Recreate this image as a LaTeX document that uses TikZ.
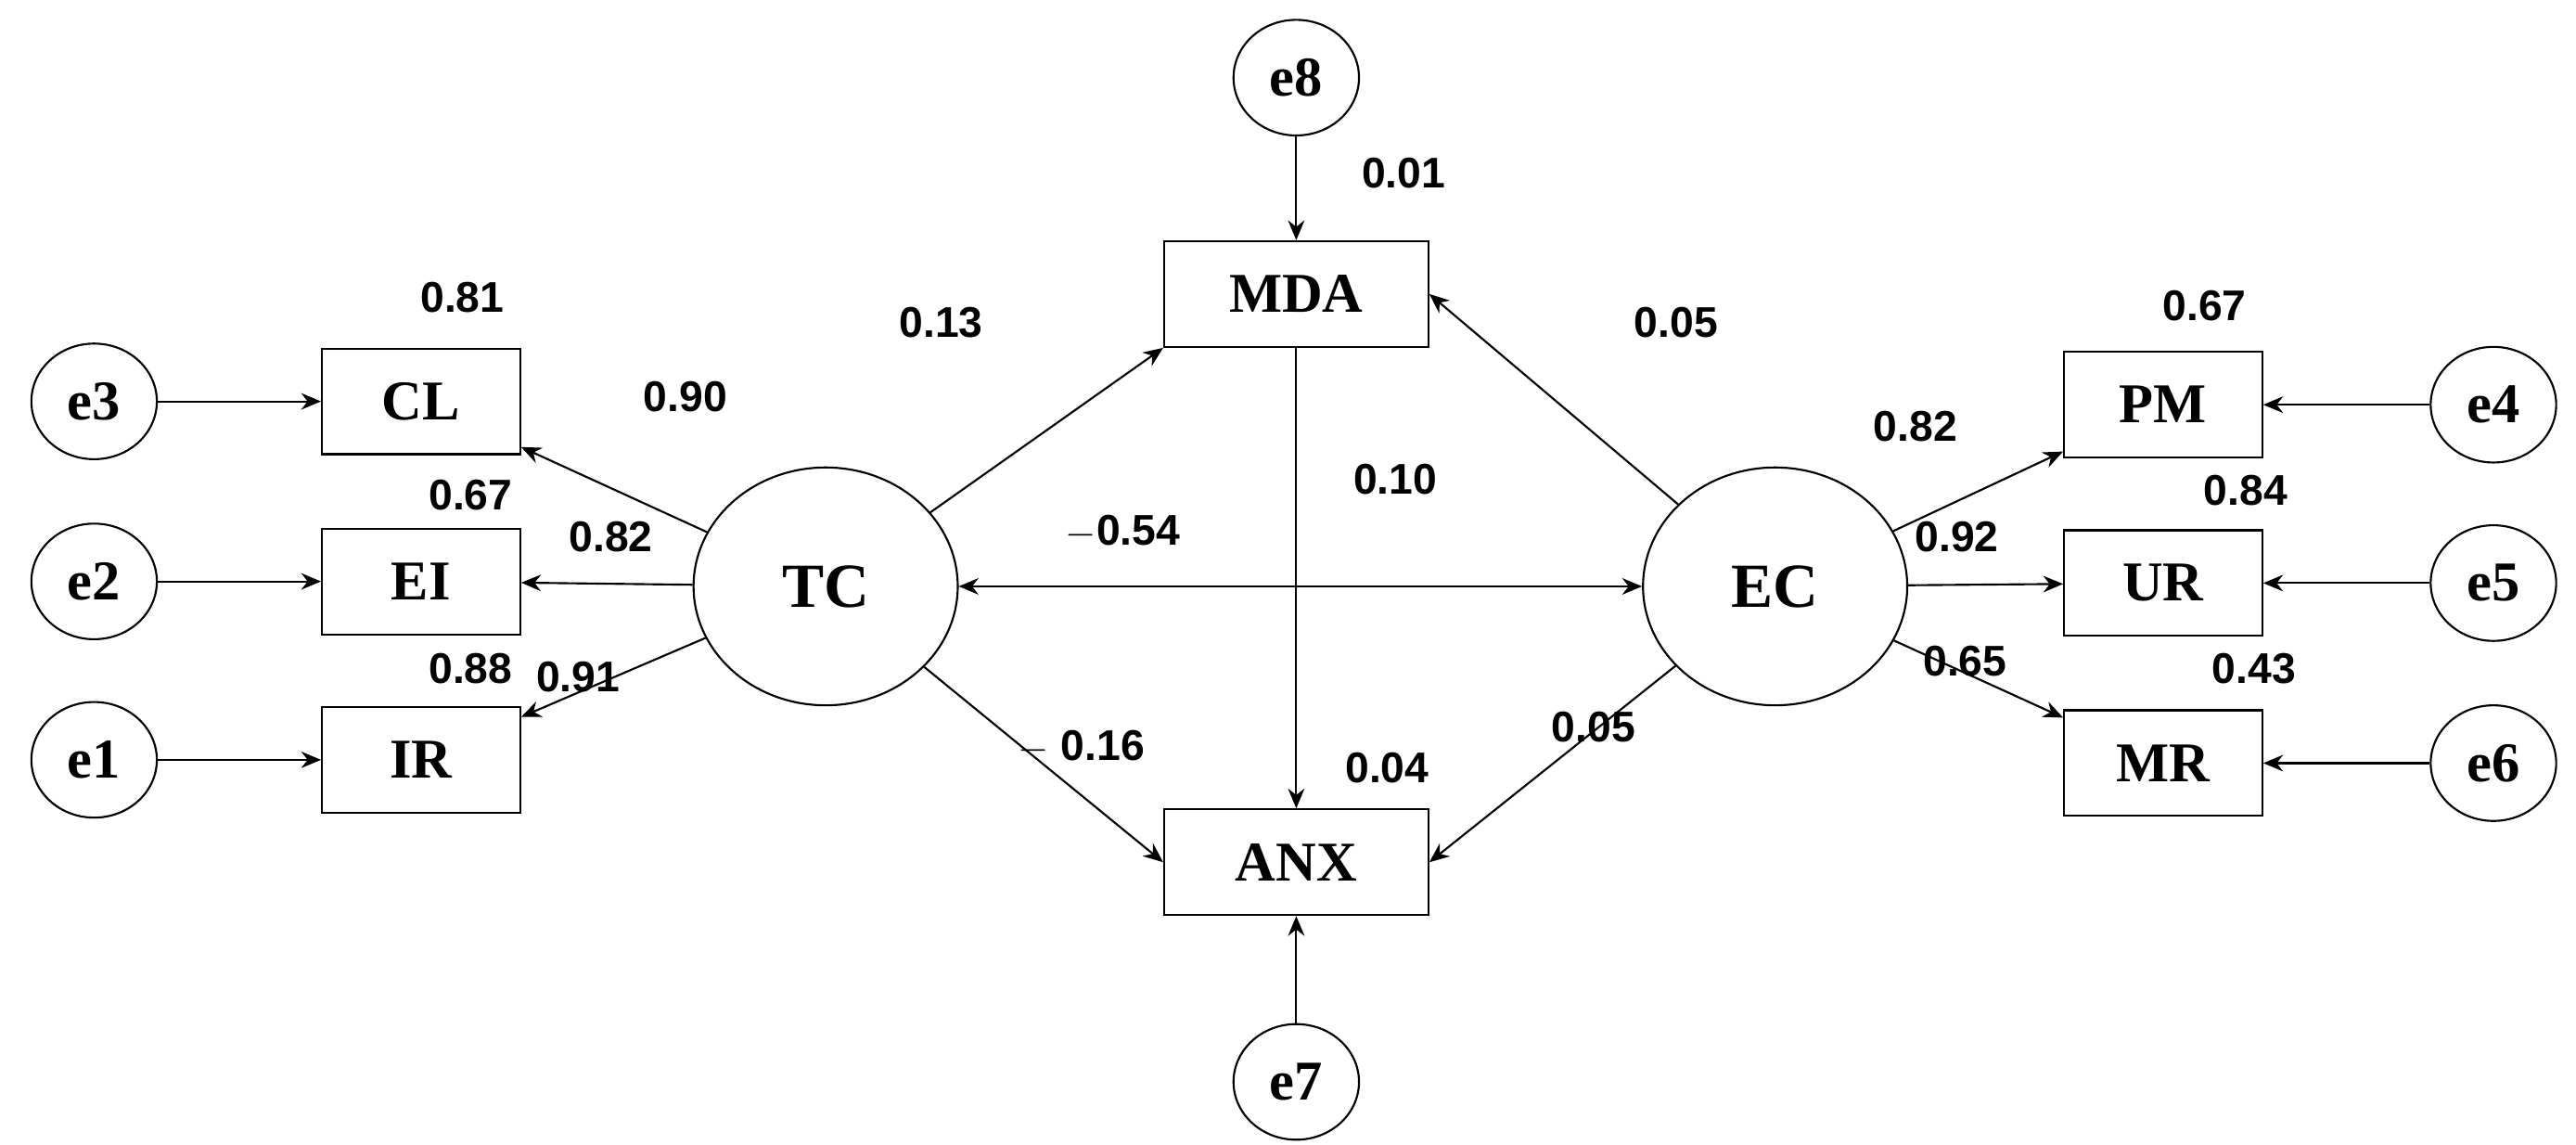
\documentclass[tikz,border=0pt]{standalone}
\usepackage{fontspec}
\setmainfont{Liberation Serif}
\newfontfamily\numfont{Liberation Sans}
\usetikzlibrary{arrows.meta,shapes.geometric}
\begin{document}
\begin{tikzpicture}[x=0.5pt,y=-0.5pt,
  obs/.style={draw,line width=0.6pt,minimum width=60pt,minimum height=32pt,inner sep=0pt,font=\fontsize{17}{17}\selectfont\bfseries},
  err/.style={draw,ellipse,line width=0.6pt,minimum width=38pt,minimum height=35pt,inner sep=0pt,font=\fontsize{17}{17}\selectfont\bfseries},
  lat/.style={draw,ellipse,line width=0.6pt,minimum width=80pt,minimum height=72pt,inner sep=0pt,font=\fontsize{19}{19}\selectfont\bfseries},
  lab/.style={font=\numfont\fontsize{13}{13}\selectfont\bfseries},
  arr/.style={-{Stealth[length=6pt,width=5pt]},line width=0.6pt}]
\useasboundingbox (0,0) rectangle (1560,693);
\node[err] (e8) at (785,47) {e8};
\node[obs,minimum width=80pt] (mda) at (785,178) {MDA};
\node[obs,minimum width=80pt] (anx) at (785,522) {ANX};
\node[err] (e7) at (785,655) {e7};
\node[lat] (tc) at (500,355) {TC};
\node[lat] (ec) at (1075,355) {EC};
\node[obs] (cl) at (255,243) {CL};
\node[obs] (ei) at (255,352) {EI};
\node[obs] (ir) at (255,460) {IR};
\node[err] (e3) at (57,243) {e3};
\node[err] (e2) at (57,352) {e2};
\node[err] (e1) at (57,460) {e1};
\node[obs] (pm) at (1310,245) {PM};
\node[obs] (ur) at (1310,353) {UR};
\node[obs] (mr) at (1310,462) {MR};
\node[err] (e4) at (1510,245) {e4};
\node[err] (e5) at (1510,353) {e5};
\node[err] (e6) at (1510,462) {e6};
\draw[arr] (e8) -- (mda);
\draw[arr] (e7) -- (anx);
\draw[arr] (mda) -- (anx);
\draw[arr] (e3) -- (cl);
\draw[arr] (e2) -- (ei);
\draw[arr] (e1) -- (ir);
\draw[arr] (e4) -- (pm);
\draw[arr] (e5) -- (ur);
\draw[arr] (e6) -- (mr);
\draw[arr] (tc) -- (cl);
\draw[arr] (tc) -- (ei);
\draw[arr] (tc) -- (ir);
\draw[arr] (ec) -- (pm);
\draw[arr] (ec) -- (ur);
\draw[arr] (ec) -- (mr);
\draw[arr] (tc) -- (mda.south west);
\draw[arr] (tc) -- (anx.west);
\draw[arr] (ec) -- (mda.east);
\draw[arr] (ec) -- (anx.east);
\draw[arr,{Stealth[length=6pt,width=5pt]}-{Stealth[length=6pt,width=5pt]}] (tc) -- (ec);
\node[lab] at (850,105) {0.01};
\node[lab] at (280,180) {0.81};
\node[lab] at (570,195) {0.13};
\node[lab] at (1015,195) {0.05};
\node[lab] at (1335,185) {0.67};
\node[lab] at (415,240) {0.90};
\node[lab] at (1160,258) {0.82};
\node[lab] at (285,300) {0.67};
\node[lab] at (845,290) {0.10};
\node[lab] at (1360,297) {0.84};
\node[lab] at (370,325) {0.82};
\node[lab] at (680,322) {$-$0.54};
\node[lab] at (1185,325) {0.92};
\node[lab] at (285,405) {0.88};
\node[lab] at (350,410) {0.91};
\node[lab] at (1190,400) {0.65};
\node[lab] at (1365,405) {0.43};
\node[lab] at (655,452) {$-$ 0.16};
\node[lab] at (965,440) {0.05};
\node[lab] at (840,465) {0.04};
\end{tikzpicture}
\end{document}
